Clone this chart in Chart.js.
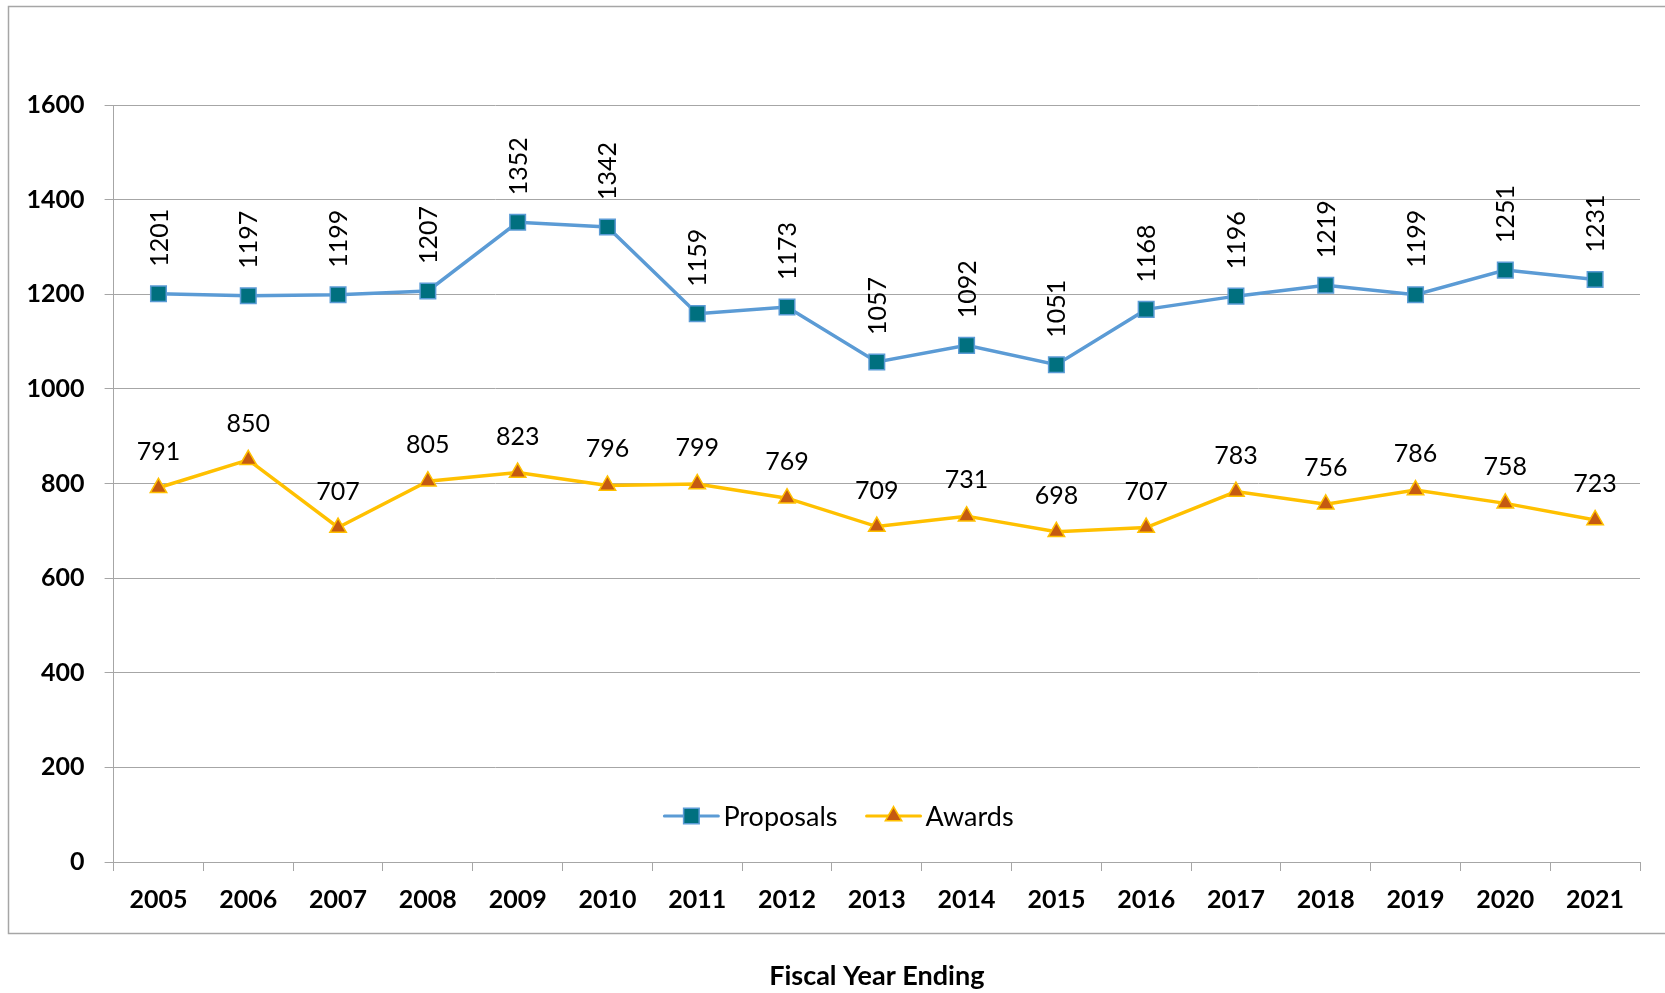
<!DOCTYPE html>
<html>
<head>
<meta charset="utf-8">
<script src="https://cdn.jsdelivr.net/npm/chart.js@4.4.1/dist/chart.umd.min.js"></script>
<style>
  html, body { margin: 0; padding: 0; background: #ffffff; }
  #wrap { position: relative; width: 1665px; height: 993px; }
  canvas { display: block; }
</style>
</head>
<body>
<div id="wrap"><canvas id="c" width="1665" height="993"></canvas></div>
<script>
// ---- data ----
const years = ["2005","2006","2007","2008","2009","2010","2011","2012","2013","2014","2015","2016","2017","2018","2019","2020","2021"];
const proposals = [1201,1197,1199,1207,1352,1342,1159,1173,1057,1092,1051,1168,1196,1219,1199,1251,1231];
const awards = [791,850,707,805,823,796,799,769,709,731,698,707,783,756,786,758,723];
const seriesNames = ["Proposals","Awards"];
const yTicks = [0,200,400,600,800,1000,1200,1400,1600];
const xTitle = "Fiscal Year Ending";

const FONT = "Lato, Carlito, Calibri, 'Open Sans', sans-serif";
const GRID = "#A6A6A6";

const framePlugin = {
  id: 'frame',
  beforeDraw(chart) {
    const ctx = chart.ctx;
    ctx.save();
    ctx.fillStyle = '#ffffff';
    ctx.fillRect(0, 0, chart.width, chart.height);
    ctx.strokeStyle = '#A6A6A6';
    ctx.lineWidth = 1.5;
    ctx.strokeRect(8.5, 6.5, chart.width + 10, 927);
    ctx.restore();
  }
};

const labelPlugin = {
  id: 'valueLabels',
  afterDatasetsDraw(chart) {
    const ctx = chart.ctx;
    ctx.save();
    ctx.fillStyle = '#000';
    ctx.font = "25px " + FONT;
    const m0 = chart.getDatasetMeta(0);
    m0.data.forEach((pt, i) => {
      ctx.save();
      ctx.translate(pt.x, pt.y - 27);
      ctx.rotate(-Math.PI / 2);
      ctx.textAlign = 'left';
      ctx.textBaseline = 'middle';
      ctx.fillText(String(chart.data.datasets[0].data[i]), 0, 1);
      ctx.restore();
    });
    const m1 = chart.getDatasetMeta(1);
    m1.data.forEach((pt, i) => {
      ctx.textAlign = 'center';
      ctx.textBaseline = 'middle';
      ctx.fillText(String(chart.data.datasets[1].data[i]), pt.x, pt.y - 36);
    });
    ctx.restore();
  }
};

const legendPlugin = {
  id: 'innerLegend',
  afterDatasetsDraw(chart) {
    const ctx = chart.ctx;
    const ca = chart.chartArea;
    ctx.save();
    ctx.font = "27px " + FONT;
    const lineLen = 54, gap = 5, itemGap = 29;
    const dsets = chart.data.datasets;
    const widths = dsets.map(d => lineLen + gap + ctx.measureText(d.label).width);
    const total = widths.reduce((a, b) => a + b, 0) + itemGap * (dsets.length - 1);
    let x = 839 - total / 2;
    const y = ca.bottom - 46;
    dsets.forEach((d, i) => {
      ctx.strokeStyle = d.borderColor;
      ctx.lineWidth = 3;
      ctx.lineCap = 'round';
      ctx.beginPath();
      ctx.moveTo(x, y);
      ctx.lineTo(x + lineLen, y);
      ctx.stroke();
      ctx.fillStyle = d.pointBackgroundColor;
      ctx.strokeStyle = d.pointBorderColor;
      ctx.lineWidth = d.pointBorderWidth;
      Chart.helpers.drawPoint(ctx, {
        pointStyle: d.pointStyle,
        radius: d.pointRadius,
        borderWidth: d.pointBorderWidth,
        rotation: 0
      }, x + lineLen / 2, y);
      ctx.fillStyle = '#000';
      ctx.textAlign = 'left';
      ctx.textBaseline = 'middle';
      ctx.fillText(d.label, x + lineLen + gap, y + 1);
      x += widths[i] + itemGap;
    });
    ctx.restore();
  }
};

new Chart(document.getElementById('c'), {
  type: 'line',
  data: {
    labels: years,
    datasets: [
      {
        label: seriesNames[0],
        data: proposals,
        borderColor: '#5B9BD5',
        borderWidth: 3.5,
        pointStyle: 'rect',
        pointRadius: 11,
        pointBackgroundColor: '#00707F',
        pointBorderColor: '#5B9BD5',
        pointBorderWidth: 1.5,
        tension: 0,
        fill: false
      },
      {
        label: seriesNames[1],
        data: awards,
        borderColor: '#FFC000',
        borderWidth: 3.5,
        pointStyle: 'triangle',
        pointRadius: 9.5,
        pointBackgroundColor: '#C55A11',
        pointBorderColor: '#FFC000',
        pointBorderWidth: 1.5,
        tension: 0,
        fill: false
      }
    ]
  },
  options: {
    responsive: false,
    devicePixelRatio: 1,
    animation: false,
    layout: { padding: { top: 105, right: 25, bottom: 0, left: 0 } },
    plugins: {
      legend: { display: false },
      tooltip: { enabled: false }
    },
    scales: {
      x: {
        offset: true,
        grid: {
          offset: true,
          drawOnChartArea: false,
          drawTicks: true,
          tickLength: 9,
          color: GRID,
          lineWidth: 1
        },
        border: { display: true, color: GRID, width: 1 },
        ticks: {
          color: '#000',
          font: { family: FONT, size: 25, weight: 'bold' },
          padding: 14,
          maxRotation: 0,
          autoSkip: false
        },
        title: {
          display: true,
          text: xTitle,
          color: '#000',
          font: { family: FONT, size: 27, weight: 'bold' },
          padding: { top: 4, bottom: 1 }
        },
        afterFit(s) { s.height = 131; }
      },
      y: {
        min: 0,
        max: 1600,
        afterBuildTicks(s) { s.ticks = yTicks.map(v => ({ value: v })); },
        grid: {
          color: GRID,
          lineWidth: 1,
          tickLength: 9,
          drawTicks: true
        },
        border: { display: true, color: GRID, width: 1 },
        ticks: {
          color: '#000',
          font: { family: FONT, size: 25, weight: 'bold' },
          padding: 20,
          callback: (v) => String(v)
        },
        afterFit(s) { s.width = 113.6; }
      }
    }
  },
  plugins: [framePlugin, labelPlugin, legendPlugin]
});
</script>
</body>
</html>
